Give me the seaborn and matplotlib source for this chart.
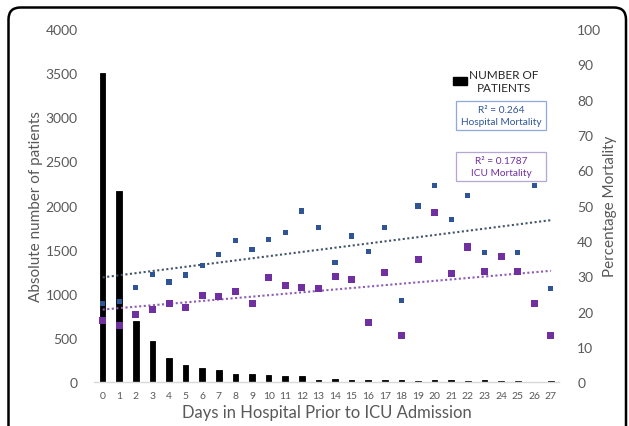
import numpy as np
import pandas as pd
import matplotlib
matplotlib.use("Agg")
import matplotlib.pyplot as plt
from matplotlib.patches import FancyBboxPatch, Rectangle, Patch
import seaborn as sns

days = list(range(28))
patients = [3500, 2170, 697, 468, 278, 195, 165, 136, 97, 90, 79, 68, 68, 29, 42,
            33, 30, 30, 32, 20, 28, 28, 18, 25, 18, 20, 10, 16]
hospital_mortality = [22.4, 22.9, 26.9, 30.6, 28.4, 30.4, 33.1, 36.2, 40.2, 37.5, 40.5,
                      42.3, 48.5, 43.8, 33.9, 41.4, 37.0, 43.8, 23.2, 49.9, 55.6, 46.1,
                      52.8, 36.7, 35.6, 36.7, 55.6, 26.6]
icu_mortality = [17.4, 16.2, 19.2, 20.7, 22.4, 21.2, 24.6, 24.4, 25.6, 22.2, 29.6,
                 27.3, 26.9, 26.7, 30.0, 29.2, 17.0, 31.1, 13.2, 34.8, 48.0, 30.7,
                 38.3, 31.5, 35.6, 31.5, 22.2, 13.2]
left_ticks = [0, 500, 1000, 1500, 2000, 2500, 3000, 3500, 4000]
right_ticks = [0, 10, 20, 30, 40, 50, 60, 70, 80, 90, 100]

df = pd.DataFrame({"day": days, "patients": patients,
                   "hosp": hospital_mortality, "icu": icu_mortality})

sns.set_theme(style="white")
plt.rcParams["font.family"] = ["Lato", "DejaVu Sans"]

GRAY = "#595959"
BLUE = "#2F5597"
PURPLE = "#7030A0"
W, H = 629, 427

fig = plt.figure(figsize=(6.29, 4.27), dpi=100)
ax = fig.add_axes([0.150, 0.102, 0.739, 0.828])

sns.barplot(data=df, x="day", y="patients", color="black", saturation=1,
            width=0.34, edgecolor="black", linewidth=0.6, ax=ax)
ax.set_xlim(-0.5, 27.5)
ax.set_ylim(0, 4000)
ax.set_yticks(left_ticks)
ax.tick_params(axis="y", colors=GRAY, labelsize=10, length=0, pad=12)
ax.tick_params(axis="x", colors=GRAY, labelsize=7.5, length=0, pad=6)
ax.set_xlabel("Days in Hospital Prior to ICU Admission", color=GRAY, fontsize=12, labelpad=3)
ax.set_ylabel("Absolute number of patients", color=GRAY, fontsize=11, labelpad=2)
for s in ["top", "right", "left"]:
    ax.spines[s].set_visible(False)
ax.spines["bottom"].set_color("#D9D9D9")
ax.spines["bottom"].set_linewidth(1)

ax2 = ax.twinx()
sns.regplot(data=df, x="day", y="hosp", scatter=False, ci=None, ax=ax2,
            line_kws=dict(color="#44546A", linestyle=(0, (1, 1.2)), linewidth=1.5))
sns.regplot(data=df, x="day", y="icu", scatter=False, ci=None, ax=ax2,
            line_kws=dict(color="#8E5BB5", linestyle=(0, (1, 1.2)), linewidth=1.5))
sns.scatterplot(data=df, x="day", y="hosp", marker="s", s=14, color=BLUE,
                edgecolor="none", ax=ax2, zorder=3)
sns.scatterplot(data=df, x="day", y="icu", marker="s", s=26, color=PURPLE,
                edgecolor="none", ax=ax2, zorder=4)
ax2.set_xlim(-0.5, 27.5)
ax2.set_ylim(0, 100)
ax2.set_yticks(right_ticks)
ax2.tick_params(axis="y", colors=GRAY, labelsize=10, length=0, pad=13)
ax2.set_ylabel("Percentage Mortality", color=GRAY, fontsize=11, labelpad=1)
ax2.set_xlabel("")
for s in ax2.spines.values():
    s.set_visible(False)

leg = ax.legend(handles=[Patch(facecolor="black", edgecolor="black")],
                labels=["NUMBER OF\nPATIENTS"], loc="upper left",
                bbox_to_anchor=(447 / W, 1 - 64 / H), bbox_transform=fig.transFigure,
                frameon=False, fontsize=8.5, handlelength=1.2, handleheight=0.6,
                handletextpad=0.15, borderpad=0)
for t in leg.get_texts():
    t.set_multialignment("center")
    t.set_color("#262626")

# R² annotation boxes
for (y0, y1, txt, col, ec) in [(102, 131, "R² = 0.264\nHospital Mortality", BLUE, "#8EA9DB"),
                               (153, 182, "R² = 0.1787\nICU Mortality", PURPLE, "#B4A7D6")]:
    fig.patches.append(Rectangle((456 / W, 1 - y1 / H), 90 / W, (y1 - y0) / H,
                                 transform=fig.transFigure, fc="white", ec=ec, lw=0.9))
    fig.text(501 / W, 1 - (y0 + y1) / 2 / H, txt, color=col, fontsize=7.3,
             ha="center", va="center", linespacing=1.45)

frame = FancyBboxPatch((8.5, -300), 626 - 8.5, (H - 8.5) + 300,
                       boxstyle="round,pad=0,rounding_size=12",
                       transform=None, fill=False, ec="black", lw=1.8,
                       clip_on=False)
fig.patches.append(frame)

fig.savefig("out.png", dpi=100)
